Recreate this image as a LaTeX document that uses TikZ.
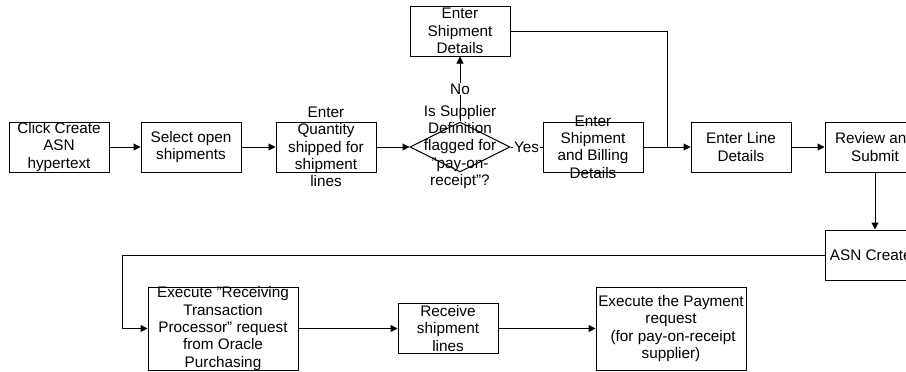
\documentclass[tikz,border=0pt]{standalone}
\usepackage{fontspec}
\setmainfont{Liberation Sans}
\usetikzlibrary{positioning, shapes.geometric, arrows.meta, calc}

\tikzset{
    box/.style={draw, line width=1pt, minimum width=100pt, minimum height=50pt, inner sep=0pt},
    bigbox/.style={box, minimum width=150pt, minimum height=83pt},
    txt/.style={align=center, inner sep=0pt, font=\fontsize{15.3}{17.4}\selectfont},
    arr/.style={line width=1pt, -{Triangle[length=7pt,width=7pt]}},
    conn/.style={line width=1pt}
}

\begin{document}
\begin{tikzpicture}[x=1pt, y=-1pt, node distance=32pt]
    \useasboundingbox (0,0) rectangle (906,372);
    \fill[white] (0,0) rectangle (906,372);
    \clip (0,0) rectangle (906,372);

    % Nodes for the top row
    \node[box] (click) at (59,147) {};
    \node[box, right=31pt of click] (select) {};
    \node[box, right=34pt of select] (qty) {};
    \node[diamond, draw, line width=1pt, minimum width=100pt, minimum height=50pt, inner sep=0pt, right=33pt of qty] (supplier) {};
    \node[box, above=65pt of supplier] (shipdet) {};
    \node[box, right=of supplier] (shipbill) {};
    \node[box, right=47pt of shipbill] (lines) {};
    \node[box, right=33pt of lines] (review) {};
    \node[box, below=57pt of review] (asn) {};

    % Nodes for the bottom row
    \node[bigbox] (rtp) at (223,328.5) {};
    \node[box, right=99pt of rtp] (receive) {};
    \node[bigbox, right=97pt of receive] (payment) {};

    % Texts
    \node[txt] (clickT) at (click) {Click Create\\ASN\\hypertext};
    \node[txt] (selectT) at (select) {Select open\\shipments};
    \node[txt] (qtyT) at (qty) {Enter\\Quantity\\shipped for\\shipment\\lines};
    \node[txt] (supplierT) at (supplier) {Is Supplier\\Definition\\flagged for\\"pay-on-\\receipt"?};
    \node[txt] (shipdetT) at (shipdet) {Enter\\Shipment\\Details};
    \node[txt] (shipbillT) at (shipbill) {Enter\\Shipment\\and Billing\\Details};
    \node[txt] (linesT) at (lines) {Enter Line\\Details};
    \node[txt] (reviewT) at (review) {Review and\\Submit};
    \node[txt] (asnT) at (asn) {ASN Created};
    \node[txt] (rtpT) at (rtp) {Execute "Receiving\\Transaction\\Processor" request\\from Oracle\\Purchasing};
    \node[txt] (receiveT) at (receive) {Receive\\shipment\\lines};
    \node[txt] (paymentT) at (payment) {Execute the Payment\\request\\~(for pay-on-receipt\\supplier)};

    % Arrows
    \draw[arr] (click) -- (select);
    \draw[arr] (select) -- (qty);
    \draw[arr] (qty) -- (supplier);
    \draw[arr] (supplier) -- node[txt, fill=white, inner sep=1pt] (no) {No} (shipdet);
    \draw[conn] (supplier) -- node[txt, fill=white, inner sep=1pt] (yes) {Yes} (shipbill);
    \coordinate (join) at ($(shipbill.east)!0.5!(lines.west)$);
    \draw[conn] (shipdet) -| (join);
    \draw[arr] (shipbill) -- (lines);
    \draw[arr] (lines) -- (review);
    \draw[arr] (review) -- (asn);
    \coordinate[left=25pt of rtp.west] (turn);
    \draw[arr] (asn.west) -- (asn.west -| turn) |- (rtp.west);
    \draw[arr] (rtp) -- (receive);
    \draw[arr] (receive) -- (payment);

\end{tikzpicture}
\end{document}
